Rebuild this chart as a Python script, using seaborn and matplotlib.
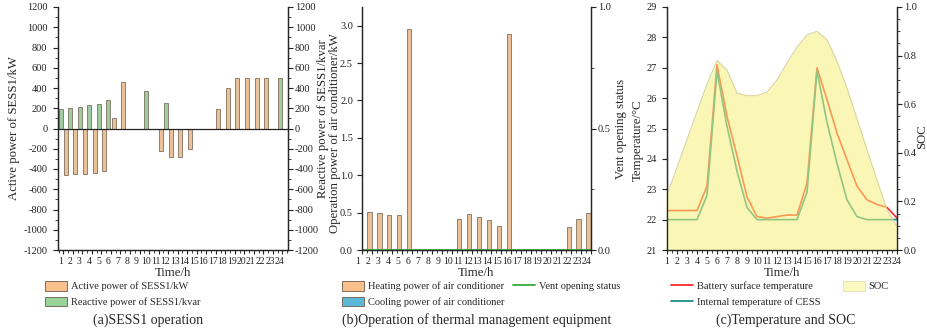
import numpy as np
import pandas as pd
import matplotlib
matplotlib.use("Agg")
import matplotlib.pyplot as plt
import matplotlib.transforms as mtransforms
from matplotlib.patches import Patch
from matplotlib.lines import Line2D
from matplotlib.ticker import MultipleLocator, FixedLocator
import seaborn as sns

# ---------------- data ----------------
hours = list(range(1, 25))
hour_labels = [str(h) for h in hours]

active_power = [-456, -450, -447, -440, -418, 99, 462, 0, 0, 0, -224, -286,
                -286, -207, 0, 0, 195, 403, 498, 498, 498, 498, 0, 0]
reactive_power = [195, 205, 215, 228, 238, 281, 0, 0, 0, 370, 0, 248,
                  0, 0, 0, 0, 0, 0, 0, 0, 0, 0, 0, 498]

heating_power = [0, 0.51, 0.49, 0.47, 0.47, 2.96, 0, 0, 0, 0, 0.415, 0.487,
                 0.44, 0.40, 0.32, 2.89, 0, 0, 0, 0, 0, 0.31, 0.42, 0.50]
cooling_power = [0] * 24
vent_status = [0] * 24

surface_temp = [22.3, 22.3, 22.3, 22.3, 23.1, 27.1, 25.4, 24.1, 22.75, 22.1, 22.05, 22.1,
                22.15, 22.15, 23.2, 27.0, 25.95, 24.85, 23.97, 23.1, 22.65, 22.5, 22.4, 22.05]
internal_temp = [22.0, 22.0, 22.0, 22.0, 22.8, 26.9, 25.07, 23.6, 22.4, 22.0, 22.0, 22.0,
                 22.0, 22.0, 22.9, 26.9, 25.2, 23.85, 22.65, 22.1, 22.0, 22.0, 22.0, 22.0]
soc = [0.227, 0.34, 0.455, 0.569, 0.683, 0.78, 0.74, 0.645, 0.635, 0.635, 0.65, 0.70,
       0.77, 0.835, 0.885, 0.90, 0.865, 0.776, 0.666, 0.54, 0.412, 0.288, 0.165, 0.096]

# ---------------- style ----------------
sns.set_theme(style="ticks")
plt.rcParams['font.family'] = ['Liberation Serif', 'DejaVu Serif']
plt.rcParams['axes.linewidth'] = 0.9
plt.rcParams['axes.unicode_minus'] = False
plt.rcParams['xtick.direction'] = 'out'
plt.rcParams['ytick.direction'] = 'out'

ORANGE = '#F9C08C'
GREEN = '#98D49A'
BLUE = '#5BB8D6'
EDGE = '#6b5a4a'
RED = '#FF2A2A'
TEAL = '#17908A'
VENT = '#3DAA3D'
YELLOW = '#F7F27A'
AXC = '#222222'

W, H = 928, 334
fig = plt.figure(figsize=(W / 100, H / 100), dpi=100)


def rect(x0, x1, y_top=7, y_bot=250):
    return [x0 / W, 1 - y_bot / H, (x1 - x0) / W, (y_bot - y_top) / H]


TICK_FS = 7.5
XT_FS = 7
LAB_FS = 9.2


def style_x(ax, shift_px=0):
    ax.xaxis.set_major_locator(FixedLocator(hours))
    ax.set_xticklabels(hour_labels, fontsize=XT_FS)
    ax.xaxis.set_minor_locator(MultipleLocator(0.5))
    ax.tick_params(axis='x', which='major', length=3, width=0.8, pad=2, colors=AXC)
    ax.tick_params(axis='x', which='minor', length=2, width=0.6, colors=AXC)
    ax.set_xlabel('Time/h', fontsize=LAB_FS)
    ax.xaxis.set_label_coords(0.5, -0.07)
    if shift_px:
        off = mtransforms.ScaledTranslation(shift_px / 100, 0, fig.dpi_scale_trans)
        for lab in ax.get_xticklabels():
            lab.set_transform(lab.get_transform() + off)


def style_y(ax, pad=4):
    ax.tick_params(axis='y', which='major', length=3.5, width=0.8, pad=pad,
                   labelsize=TICK_FS, colors=AXC)
    ax.tick_params(axis='y', which='minor', length=2, width=0.6, colors=AXC)


# ================= (a) =================
axA = fig.add_axes(rect(57.7, 288))
dfA = pd.DataFrame({
    'hour': hours * 2,
    'value': active_power + reactive_power,
    'series': ['Active'] * 24 + ['Reactive'] * 24,
})
sns.barplot(data=dfA, x='hour', y='value', hue='series', hue_order=['Reactive', 'Active'],
            palette={'Active': ORANGE, 'Reactive': GREEN}, native_scale=True,
            width=1.1, gap=0.24, dodge=True, edgecolor=EDGE, linewidth=0.5,
            errorbar=None, legend=False, ax=axA)
axA.axhline(0, color=AXC, lw=0.9, zorder=5)
axA.set_xlim(0.41, 24.58)
axA.set_ylim(-1200, 1200)
axA.yaxis.set_major_locator(MultipleLocator(200))
axA.yaxis.set_minor_locator(MultipleLocator(100))
style_x(axA, shift_px=-3)
style_y(axA)
axA.set_ylabel('Active power of SESS1/kW', fontsize=LAB_FS)
axA.yaxis.set_label_coords(-0.165, 0.5)
axA.spines['top'].set_visible(False)

axA2 = axA.twinx()
axA2.set_ylim(-1200, 1200)
axA2.yaxis.set_major_locator(MultipleLocator(200))
axA2.yaxis.set_minor_locator(MultipleLocator(100))
style_y(axA2, pad=1.5)
axA2.set_ylabel('Reactive power of SESS1/kvar', fontsize=LAB_FS, rotation=90)
axA2.yaxis.set_label_coords(1.126, 0.54)
axA2.spines['top'].set_visible(False)

# ================= (b) =================
axB = fig.add_axes(rect(362, 591))
dfB = pd.DataFrame({
    'hour': hours * 2,
    'value': heating_power + cooling_power,
    'series': ['Heating'] * 24 + ['Cooling'] * 24,
})
sns.barplot(data=dfB, x='hour', y='value', hue='series', hue_order=['Heating', 'Cooling'],
            palette={'Heating': ORANGE, 'Cooling': BLUE}, native_scale=True,
            width=1.0, gap=0.16, dodge=True, edgecolor=EDGE, linewidth=0.5,
            errorbar=None, legend=False, ax=axB)
axB.set_xlim(1, 24)
axB.set_ylim(0, 3.25)
axB.yaxis.set_major_locator(FixedLocator([0, 0.5, 1.0, 1.5, 2.0, 2.5, 3.0]))
axB.set_yticklabels(['0.0', '0.5', '1.0', '1.5', '2.0', '2.5', '3.0'])
style_x(axB, shift_px=-4)
style_y(axB, pad=3)
axB.set_ylabel('Operation power of air conditioner/kW', fontsize=LAB_FS)
axB.yaxis.set_label_coords(-0.093, 0.48)
axB.spines['top'].set_visible(False)

axB2 = axB.twinx()
sns.lineplot(x=hours, y=vent_status, color=VENT, lw=1.2, ax=axB2)
axB2.set_xlim(1, 24)
axB2.set_ylim(0, 1.0)
axB2.yaxis.set_major_locator(FixedLocator([0, 0.5, 1.0]))
axB2.set_yticklabels(['0.0', '0.5', '1.0'])
axB2.yaxis.set_minor_locator(FixedLocator([0.25, 0.75]))
style_y(axB2, pad=1.5)
axB2.set_ylabel('Vent opening status', fontsize=LAB_FS)
axB2.yaxis.set_label_coords(1.103, 0.5)
axB2.spines['top'].set_visible(False)

# ================= (c) =================
axC = fig.add_axes(rect(667, 897))
sns.lineplot(x=hours, y=surface_temp, color=RED, lw=1.2, ax=axC)
sns.lineplot(x=hours, y=internal_temp, color=TEAL, lw=1.2, ax=axC)
axC.set_xlim(1, 24)
axC.set_ylim(21, 29)
axC.yaxis.set_major_locator(MultipleLocator(1))
style_x(axC)
style_y(axC)
axC.set_ylabel('Temperature/°C', fontsize=LAB_FS)
axC.yaxis.set_label_coords(-0.10, 0.45)
axC.spines['top'].set_visible(False)

axC2 = axC.twinx()
axC2.fill_between(hours, soc, 0, color=YELLOW, alpha=0.55, lw=0)
sns.lineplot(x=hours, y=soc, color='#d9d5a0', lw=0.8, ax=axC2)
axC2.set_xlim(1, 24)
axC2.set_ylim(0, 1.0)
axC2.yaxis.set_major_locator(FixedLocator([0, 0.2, 0.4, 0.6, 0.8, 1.0]))
axC2.set_yticklabels(['0.0', '0.2', '0.4', '0.6', '0.8', '1.0'])
axC2.yaxis.set_minor_locator(MultipleLocator(0.05))
style_y(axC2, pad=1.5)
axC2.set_ylabel('SOC', fontsize=LAB_FS)
axC2.yaxis.set_label_coords(1.085, 0.465)
axC2.spines['top'].set_visible(False)

# ================= legends =================
LEG_FS = 7.5
leg_kw = dict(frameon=False, fontsize=LEG_FS, loc='upper left', borderpad=0,
              borderaxespad=0, handletextpad=0.35, labelspacing=0.5,
              handlelength=2.1, handleheight=1.05)

fig.legend(handles=[Patch(fc=ORANGE, ec=EDGE, lw=0.6), Patch(fc=GREEN, ec=EDGE, lw=0.6)],
           labels=['Active power of SESS1/kW', 'Reactive power of SESS1/kvar'],
           bbox_to_anchor=(45 / W, 1 - 281 / H), **leg_kw)

fig.legend(handles=[Patch(fc=ORANGE, ec=EDGE, lw=0.6), Patch(fc=BLUE, ec=EDGE, lw=0.6),
                    Line2D([], [], color=VENT, lw=1.3)],
           labels=['Heating power of air conditioner', 'Cooling power of air conditioner',
                   'Vent opening status'],
           ncol=2, columnspacing=0.9, bbox_to_anchor=(342 / W, 1 - 281 / H), **leg_kw)

fig.legend(handles=[Line2D([], [], color=RED, lw=1.3), Line2D([], [], color=TEAL, lw=1.3),
                    Patch(fc='#FBF9C0', ec='#e4e0b0', lw=0.6)],
           labels=['Battery surface temperature', 'Internal temperature of CESS', 'SOC'],
           ncol=2, columnspacing=2.2, bbox_to_anchor=(671 / W, 1 - 281 / H), **leg_kw)

# ================= panel titles =================
TITLE_FS = 10
fig.text(148 / W, 1 - 320 / H, '(a)SESS1 operation', ha='center', va='center', fontsize=TITLE_FS)
fig.text(477 / W, 1 - 320 / H, '(b)Operation of thermal management equipment',
         ha='center', va='center', fontsize=TITLE_FS)
fig.text(786 / W, 1 - 320 / H, '(c)Temperature and SOC', ha='center', va='center',
         fontsize=TITLE_FS)

fig.savefig('out.png', dpi=100)
